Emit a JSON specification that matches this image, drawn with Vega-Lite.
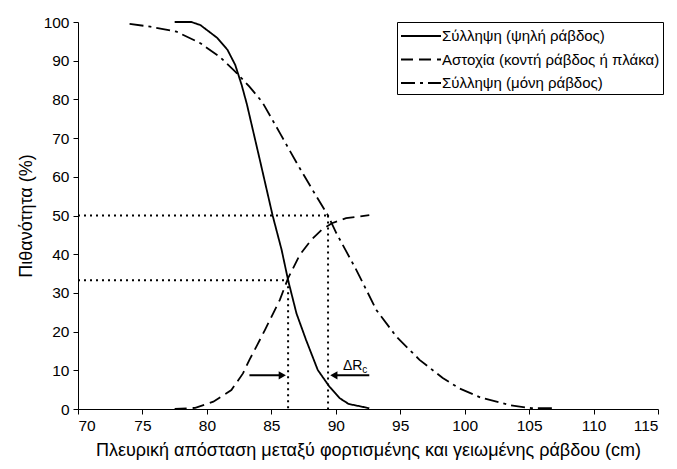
{
  "$schema": "https://vega.github.io/schema/vega-lite/v6.json",
  "width": 580,
  "height": 387,
  "autosize": "none",
  "padding": {"left": 78, "top": 22, "right": 19, "bottom": 60},
  "config": {
    "view": {"stroke": null},
    "font": "Liberation Sans",
    "axis": {"domainColor": "black", "tickColor": "black", "labelColor": "black", "titleColor": "black", "grid": false, "labelFontSize": 15.5, "titleFontSize": 18, "titleFontWeight": "normal", "labelFont": "Liberation Sans", "titleFont": "Liberation Sans", "tickSize": 5}
  },
  "datasets": {
    "curves": [
      {"s": "Σύλληψη (ψηλή ράβδος)", "x": 77.5, "y": 100},
      {"s": "Σύλληψη (ψηλή ράβδος)", "x": 78.8, "y": 100},
      {"s": "Σύλληψη (ψηλή ράβδος)", "x": 79.5, "y": 99.2},
      {"s": "Σύλληψη (ψηλή ράβδος)", "x": 80.8, "y": 95.9},
      {"s": "Σύλληψη (ψηλή ράβδος)", "x": 81.6, "y": 92.8},
      {"s": "Σύλληψη (ψηλή ράβδος)", "x": 82.2, "y": 88.9},
      {"s": "Σύλληψη (ψηλή ράβδος)", "x": 82.7, "y": 83.7},
      {"s": "Σύλληψη (ψηλή ράβδος)", "x": 83.1, "y": 78.8},
      {"s": "Σύλληψη (ψηλή ράβδος)", "x": 84.1, "y": 64.5},
      {"s": "Σύλληψη (ψηλή ράβδος)", "x": 85.1, "y": 50.0},
      {"s": "Σύλληψη (ψηλή ράβδος)", "x": 85.8, "y": 41.1},
      {"s": "Σύλληψη (ψηλή ράβδος)", "x": 86.3, "y": 33.3},
      {"s": "Σύλληψη (ψηλή ράβδος)", "x": 86.95, "y": 24.7},
      {"s": "Σύλληψη (ψηλή ράβδος)", "x": 87.7, "y": 17.8},
      {"s": "Σύλληψη (ψηλή ράβδος)", "x": 88.6, "y": 10.1},
      {"s": "Σύλληψη (ψηλή ράβδος)", "x": 89.5, "y": 5.8},
      {"s": "Σύλληψη (ψηλή ράβδος)", "x": 90.3, "y": 2.8},
      {"s": "Σύλληψη (ψηλή ράβδος)", "x": 91.0, "y": 1.3},
      {"s": "Σύλληψη (ψηλή ράβδος)", "x": 92.6, "y": 0.2},
      {"s": "Αστοχία (κοντή ράβδος ή πλάκα)", "x": 77.5, "y": 0},
      {"s": "Αστοχία (κοντή ράβδος ή πλάκα)", "x": 79.1, "y": 0.3},
      {"s": "Αστοχία (κοντή ράβδος ή πλάκα)", "x": 80.5, "y": 1.9},
      {"s": "Αστοχία (κοντή ράβδος ή πλάκα)", "x": 81.9, "y": 4.9},
      {"s": "Αστοχία (κοντή ράβδος ή πλάκα)", "x": 82.8, "y": 9.2},
      {"s": "Αστοχία (κοντή ράβδος ή πλάκα)", "x": 83.3, "y": 12.7},
      {"s": "Αστοχία (κοντή ράβδος ή πλάκα)", "x": 83.9, "y": 16.5},
      {"s": "Αστοχία (κοντή ράβδος ή πλάκα)", "x": 84.5, "y": 20.4},
      {"s": "Αστοχία (κοντή ράβδος ή πλάκα)", "x": 85.66, "y": 28.2},
      {"s": "Αστοχία (κοντή ράβδος ή πλάκα)", "x": 86.3, "y": 33.8},
      {"s": "Αστοχία (κοντή ράβδος ή πλάκα)", "x": 87.2, "y": 39.8},
      {"s": "Αστοχία (κοντή ράβδος ή πλάκα)", "x": 88.1, "y": 43.7},
      {"s": "Αστοχία (κοντή ράβδος ή πλάκα)", "x": 88.9, "y": 46.3},
      {"s": "Αστοχία (κοντή ράβδος ή πλάκα)", "x": 89.7, "y": 48.0},
      {"s": "Αστοχία (κοντή ράβδος ή πλάκα)", "x": 90.8, "y": 49.3},
      {"s": "Αστοχία (κοντή ράβδος ή πλάκα)", "x": 92.6, "y": 50.1},
      {"s": "Σύλληψη (μόνη ράβδος)", "x": 74.0, "y": 99.5},
      {"s": "Σύλληψη (μόνη ράβδος)", "x": 75.6, "y": 98.8},
      {"s": "Σύλληψη (μόνη ράβδος)", "x": 77.65, "y": 97.5},
      {"s": "Σύλληψη (μόνη ράβδος)", "x": 79.5, "y": 94.5},
      {"s": "Σύλληψη (μόνη ράβδος)", "x": 81.0, "y": 91.0},
      {"s": "Σύλληψη (μόνη ράβδος)", "x": 82.2, "y": 87.2},
      {"s": "Σύλληψη (μόνη ράβδος)", "x": 83.3, "y": 83.3},
      {"s": "Σύλληψη (μόνη ράβδος)", "x": 84.3, "y": 79.3},
      {"s": "Σύλληψη (μόνη ράβδος)", "x": 85.7, "y": 71.1},
      {"s": "Σύλληψη (μόνη ράβδος)", "x": 87.0, "y": 63.4},
      {"s": "Σύλληψη (μόνη ράβδος)", "x": 88.2, "y": 56.6},
      {"s": "Σύλληψη (μόνη ράβδος)", "x": 89.4, "y": 50.0},
      {"s": "Σύλληψη (μόνη ράβδος)", "x": 90.05, "y": 45.4},
      {"s": "Σύλληψη (μόνη ράβδος)", "x": 91.6, "y": 35.9},
      {"s": "Σύλληψη (μόνη ράβδος)", "x": 93.15, "y": 25.6},
      {"s": "Σύλληψη (μόνη ράβδος)", "x": 94.7, "y": 18.7},
      {"s": "Σύλληψη (μόνη ράβδος)", "x": 96.5, "y": 12.7},
      {"s": "Σύλληψη (μόνη ράβδος)", "x": 98.3, "y": 8.0},
      {"s": "Σύλληψη (μόνη ράβδος)", "x": 99.6, "y": 5.3},
      {"s": "Σύλληψη (μόνη ράβδος)", "x": 101.2, "y": 3.0},
      {"s": "Σύλληψη (μόνη ράβδος)", "x": 103.5, "y": 1.0},
      {"s": "Σύλληψη (μόνη ράβδος)", "x": 105.2, "y": 0.2},
      {"s": "Σύλληψη (μόνη ράβδος)", "x": 107.1, "y": 0.2}
    ],
    "guides": [
      {"x": 70, "x2": 89.4, "y": 50, "y2": 50},
      {"x": 89.4, "x2": 89.4, "y": 50, "y2": 0},
      {"x": 70, "x2": 86.3, "y": 33.3, "y2": 33.3},
      {"x": 86.3, "x2": 86.3, "y": 33.3, "y2": 0}
    ],
    "arrows": [
      {"x": 83.3, "x2": 85.8, "y": 8.7},
      {"x": 92.6, "x2": 89.9, "y": 8.7}
    ],
    "heads": [
      {"x": 85.85, "y": 8.7, "shape": "triangle-right"},
      {"x": 89.85, "y": 8.7, "shape": "triangle-left"}
    ],
    "labels": [
      {"x": 90.56, "y": 10.1, "t": "ΔR", "fs": 14},
      {"x": 92.05, "y": 9.3, "t": "c", "fs": 10}
    ]
  },
  "encoding": {
    "x": {"field": "x", "type": "quantitative", "scale": {"domain": [70, 115]}, "axis": {"values": [70,75,80,85,90,95,100,105,110,115], "title": "Πλευρική απόσταση μεταξύ φορτισμένης και γειωμένης ράβδου (cm)", "titlePadding": 8, "labelPadding": 4}},
    "y": {"field": "y", "type": "quantitative", "scale": {"domain": [0, 100]}, "axis": {"values": [0,10,20,30,40,50,60,70,80,90,100], "title": "Πιθανότητα (%)", "titlePadding": 8, "labelPadding": 4}}
  },
  "layer": [
    {
      "data": {"name": "guides"},
      "mark": {"type": "rule", "color": "black", "strokeWidth": 2, "strokeDash": [2, 4]},
      "encoding": {
        "x2": {"field": "x2"},
        "y2": {"field": "y2"}
      }
    },
    {
      "data": {"name": "curves"},
      "mark": {"type": "line", "color": "black", "strokeWidth": 1.8},
      "encoding": {
        "strokeDash": {
          "field": "s", "type": "nominal",
          "scale": {"domain": ["Σύλληψη (ψηλή ράβδος)", "Αστοχία (κοντή ράβδος ή πλάκα)", "Σύλληψη (μόνη ράβδος)"], "range": [[1, 0], [12, 6], [14, 5, 3, 5]]},
          "legend": {
            "title": null, "orient": "none", "legendX": 319, "legendY": 0,
            "strokeColor": "black", "fillColor": "white", "padding": 3,
            "symbolType": "M-1,0H3", "symbolSize": 400, "symbolStrokeWidth": 2, "symbolStrokeColor": "black", "symbolFillColor": "transparent",
            "labelFontSize": 15, "labelFont": "Liberation Sans", "labelColor": "black", "labelOffset": 20, "labelLimit": 400,
            "rowPadding": 4.5
          }
        },
        "order": {"field": "x", "type": "quantitative"}
      }
    },
    {
      "data": {"name": "arrows"},
      "mark": {"type": "rule", "color": "black", "strokeWidth": 2},
      "encoding": {
        "x2": {"field": "x2"}
      }
    },
    {
      "data": {"name": "heads"},
      "mark": {"type": "point", "filled": true, "color": "black", "opacity": 1, "size": 70},
      "encoding": {
        "shape": {"field": "shape", "type": "nominal", "scale": null, "legend": null}
      }
    },
    {
      "data": {"name": "labels"},
      "mark": {"type": "text", "align": "left", "baseline": "alphabetic", "color": "black", "font": "Liberation Sans"},
      "encoding": {
        "text": {"field": "t"},
        "size": {"field": "fs", "type": "quantitative", "scale": null, "legend": null}
      }
    }
  ]
}
